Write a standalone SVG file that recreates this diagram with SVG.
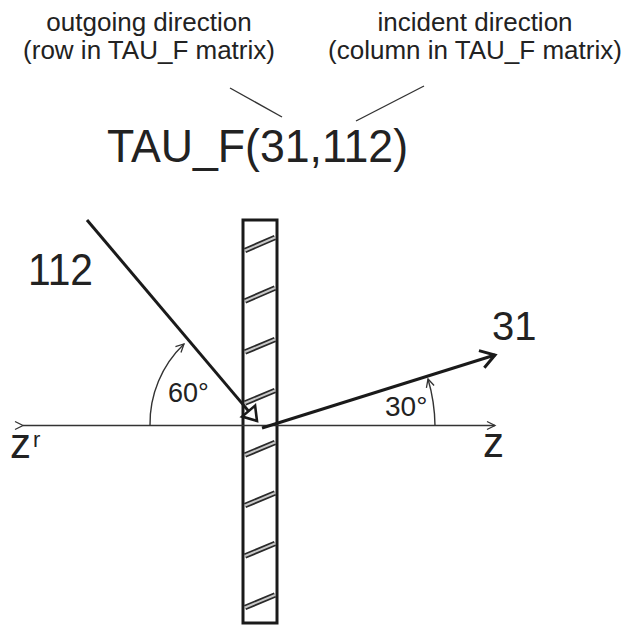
<svg xmlns="http://www.w3.org/2000/svg" width="623" height="630" viewBox="0 0 623 630">
<style>
text{font-family:"Liberation Sans",Arial,sans-serif;fill:#222}
.thin{stroke:#333;stroke-width:1.4;fill:none}
.thick{stroke:#1a1a1a;stroke-width:3;fill:none}
.hatchA{stroke:#2a2a2a;stroke-width:5.5;fill:none}
.hatchB{stroke:#c8c8c8;stroke-width:2;fill:none}
</style>
<defs>
<marker id="chevSmall" markerUnits="userSpaceOnUse" markerWidth="20" markerHeight="20" viewBox="-10 -10 20 20" refX="0" refY="0" orient="auto">
<path d="M-8,-4 L0,0 L-8,4" fill="none" stroke="#333" stroke-width="1.3"/>
</marker>
<marker id="chevBig" markerUnits="userSpaceOnUse" markerWidth="40" markerHeight="40" viewBox="-20 -20 40 40" refX="0" refY="0" orient="auto">
<path d="M-14,-9 L0,0 L-14,9" fill="none" stroke="#1a1a1a" stroke-width="3"/>
</marker>
<marker id="triHollow" markerUnits="userSpaceOnUse" markerWidth="40" markerHeight="40" viewBox="-20 -20 40 40" refX="0" refY="0" orient="auto">
<path d="M0,-8.5 L13,0 L0,8.5 Z" fill="#fff" stroke="#1a1a1a" stroke-width="2.6" stroke-linejoin="miter"/>
</marker>
</defs>

<g id="label-outgoing">
<text x="149" y="31" font-size="26" text-anchor="middle">outgoing direction</text>
<text x="149" y="59" font-size="26" text-anchor="middle">(row in TAU_F matrix)</text>
</g>
<g id="label-incident">
<text x="475" y="31" font-size="26" text-anchor="middle">incident direction</text>
<text x="475" y="59" font-size="26" text-anchor="middle">(column in TAU_F matrix)</text>
</g>
<g id="formula">
<text x="107" y="162" font-size="46" textLength="301" lengthAdjust="spacingAndGlyphs">TAU_F(31,112)</text>
</g>

<g id="slab">
<rect x="243" y="220" width="34" height="403" fill="#fff" stroke="#1a1a1a" stroke-width="3"/>
<g>
<path class="hatchA" d="M245,250.5 L275,237.5 M245,301 L275,288 M245,352 L275,339.5 M245,403 L275,390.5 M245,455 L275,442.5 M245,505.5 L275,493 M245,556 L275,543.5 M245,607.5 L275,595"/>
<path class="hatchB" d="M245,250.5 L275,237.5 M245,301 L275,288 M245,352 L275,339.5 M245,403 L275,390.5 M245,455 L275,442.5 M245,505.5 L275,493 M245,556 L275,543.5 M245,607.5 L275,595"/>
</g>
</g>

<g id="axis-labels">
<text x="10" y="458" font-size="42">z</text>
<text x="33" y="447" font-size="22">r</text>
<text x="483" y="457" font-size="42">z</text>
</g>
<g id="angle-labels">
<text x="168" y="402" font-size="27">60°</text>
<text x="385" y="416" font-size="28">30°</text>
</g>
<g id="ray-labels">
<text x="28" y="285" font-size="44" textLength="65" lengthAdjust="spacingAndGlyphs">112</text>
<text x="492" y="340" font-size="40">31</text>
</g>

<g id="connectors">
<line class="thin" x1="230" y1="88" x2="282" y2="117"/>
<line class="thin" x1="424" y1="86" x2="356" y2="121"/>
<line class="thin" x1="23" y1="425.5" x2="495" y2="425.5" marker-start="url(#chevSmall)" marker-end="url(#chevSmall)"/>
<path class="thin" d="M150,425.5 A110,110 0 0 1 184,344" marker-end="url(#chevSmall)"/>
<path class="thin" d="M435,425.5 A173,173 0 0 0 428,379" marker-end="url(#chevSmall)"/>
<line class="thick" x1="87" y1="220" x2="248.6" y2="411.1" marker-end="url(#triHollow)"/>
<line class="thick" x1="262" y1="428" x2="495" y2="355" marker-end="url(#chevBig)"/>
</g>
</svg>
